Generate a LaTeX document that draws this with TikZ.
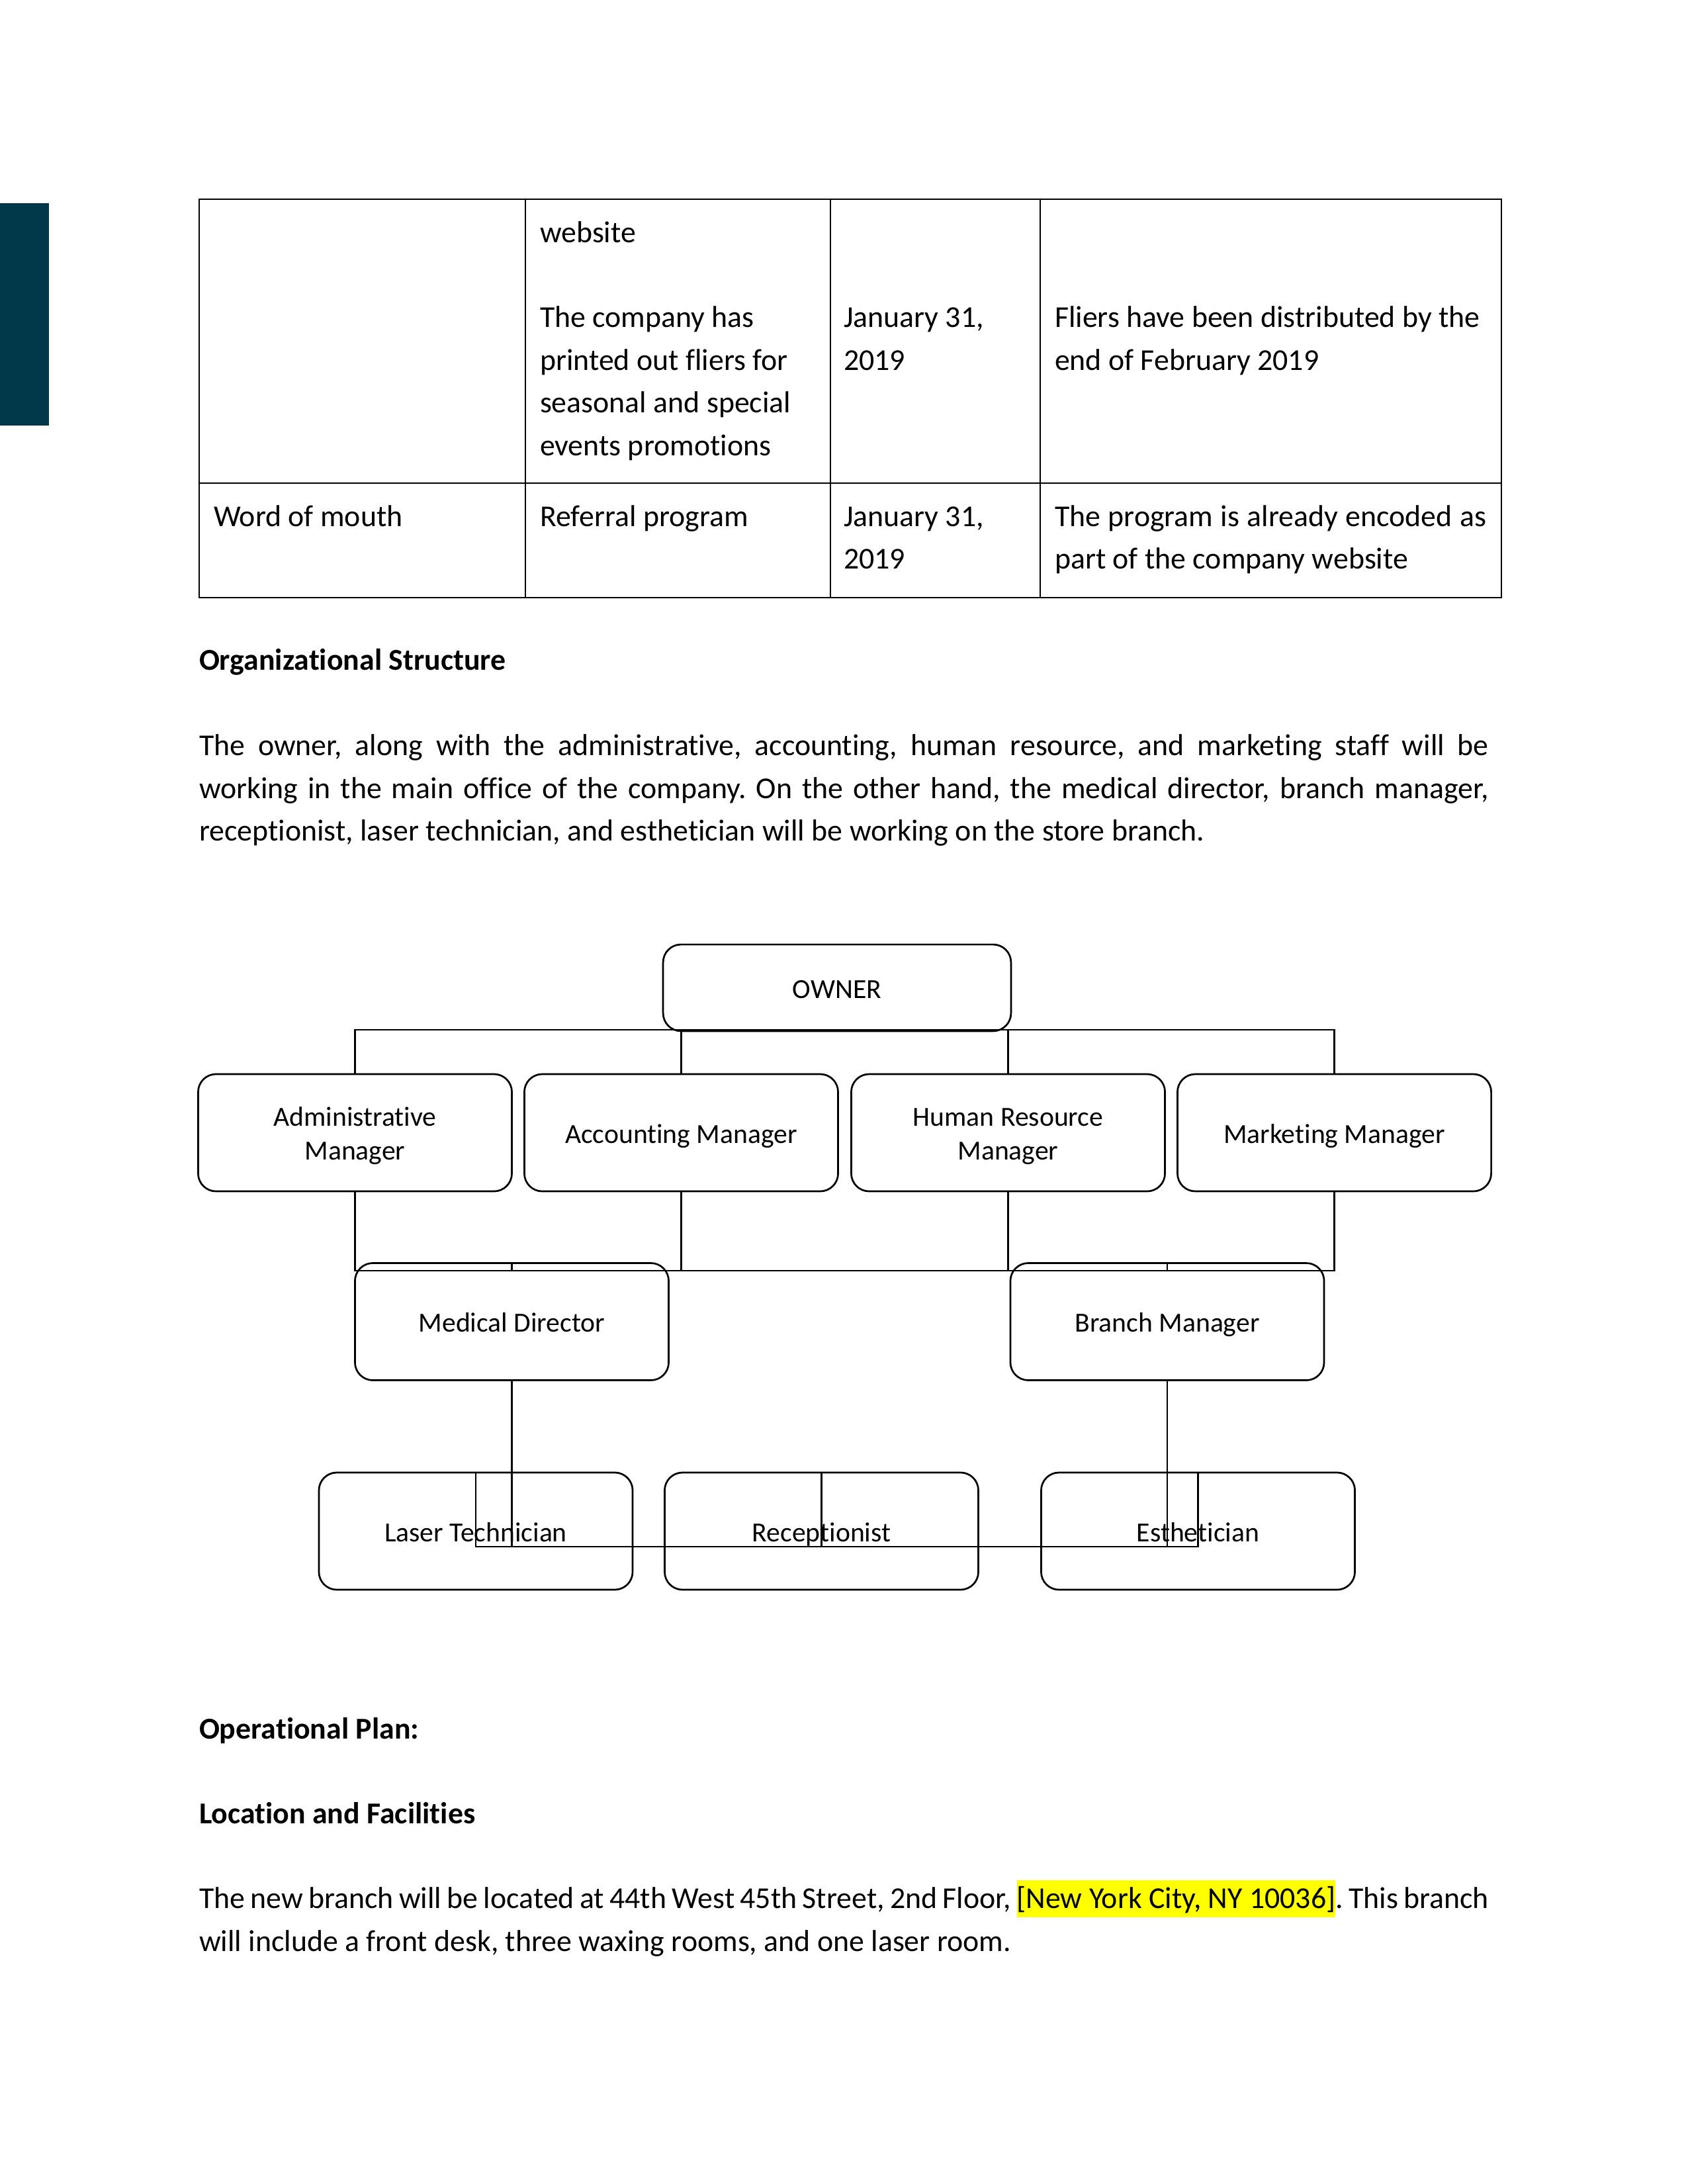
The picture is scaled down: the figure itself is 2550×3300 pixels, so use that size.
\documentclass[tikz,border=0pt]{standalone}
\usepackage{fontspec}
\setmainfont{Carlito}[Ligatures=NoCommon, Contextuals=NoAlternate]
\usetikzlibrary{calc}
\definecolor{sidebar}{RGB}{2,57,74}
\definecolor{hl}{RGB}{255,255,0}
\newcommand\bodyfont{\fontsize{11pt}{13.4pt}\selectfont}
\newcommand\orgfont{\fontsize{10pt}{12.2pt}\selectfont}
\newcommand\jline[1]{\makebox[467.76pt][s]{#1}}
\newcommand\celljline[1]{\makebox[156.5pt][s]{#1}}
\frenchspacing
\begin{document}
\begin{tikzpicture}[x=0.24pt, y=-0.24pt,
  every node/.style={inner sep=0pt, outer sep=0pt},
  txt/.style={anchor=base west, font=\bodyfont},
  hd/.style={anchor=base west, font=\bodyfont\bfseries},
  orgbox/.style={draw, line width=0.65pt, rounded corners=6.5pt, minimum width=113.8pt, minimum height=42.5pt},
  ownbox/.style={draw, line width=0.65pt, rounded corners=6.5pt, minimum width=126.2pt, minimum height=31.4pt},
  orgtxt/.style={anchor=base, font=\orgfont},
  link/.style={line width=0.55pt},
  rule/.style={line width=0.5pt}]
\useasboundingbox (0,0) rectangle (2550,3300);
% side bar
\fill[sidebar] (0,307) rectangle (74,643);
% table
\draw[rule] (301,301) rectangle (2269,903);
\draw[rule] (794,301) -- (794,903);
\draw[rule] (1255,301) -- (1255,903);
\draw[rule] (1572,301) -- (1572,903);
\draw[rule] (301,730) -- (2269,730);
\node[txt] (c12a) at (816,366) {website};
\node[txt] (c12b) at (816,494) {The company has};
\node[txt] (c12c) at (816,559) {printed out fliers for};
\node[txt] (c12d) at (816,623) {seasonal and special};
\node[txt] (c12e) at (816,688) {events promotions};
\node[txt] (c13a) at (1275,494) {January 31,};
\node[txt] (c13b) at (1275,559) {2019};
\node[txt] (c14a) at (1594,494) {Fliers have been distributed by the};
\node[txt] (c14b) at (1594,559) {end of February 2019};
\node[txt] (c21) at (323,795) {Word of mouth};
\node[txt] (c22) at (816,795) {Referral program};
\node[txt] (c23a) at (1275,795) {January 31,};
\node[txt] (c23b) at (1275,859) {2019};
\node[txt] (c24a) at (1594,795) {\celljline{The program is already encoded as}};
\node[txt] (c24b) at (1594,859) {part of the company website};
% heading and paragraph
\node[hd] (h1) at (301,1012) {Organizational Structure};
\node[txt] (p1) at (301,1141) {\jline{The owner, along with the administrative, accounting, human resource, and marketing staff will be}};
\node[txt] (p2) at (301,1206) {\jline{working in the main office of the company. On the other hand, the medical director, branch manager,}};
\node[txt] (p3) at (301,1270) {receptionist, laser technician, and esthetician will be working on the store branch.};
% org chart boxes
\node[ownbox] (own) at (1265,1492.5) {};
\node[orgbox] (adm) at (536.5,1711.5) {};
\node[orgbox] (acc) at (1029.5,1711.5) {};
\node[orgbox] (hr) at (1523.5,1711.5) {};
\node[orgbox] (mkt) at (2016.5,1711.5) {};
\node[orgbox] (md) at (773.5,1997) {};
\node[orgbox] (bm) at (1764,1997) {};
\node[orgbox] (las) at (719,2313.5) {};
\node[orgbox] (rec) at (1241.5,2313.5) {};
\node[orgbox] (est) at (1810.5,2313.5) {};
% org chart texts
\node[orgtxt] (t-own) at ([yshift=-3.72pt]own.center) {OWNER};
\node[orgtxt] (t-adm1) at ([yshift=2.52pt]adm.center) {Administrative};
\node[orgtxt] (t-adm2) at ([yshift=-9.72pt]adm.center) {Manager};
\node[orgtxt] (t-acc) at ([yshift=-3.72pt]acc.center) {Accounting Manager};
\node[orgtxt] (t-hr1) at ([yshift=2.52pt]hr.center) {Human Resource};
\node[orgtxt] (t-hr2) at ([yshift=-9.72pt]hr.center) {Manager};
\node[orgtxt] (t-mkt) at ([yshift=-3.72pt]mkt.center) {Marketing Manager};
\node[orgtxt] (t-md) at ([yshift=-3.72pt]md.center) {Medical Director};
\node[orgtxt] (t-bm) at ([yshift=-3.72pt]bm.center) {Branch Manager};
\node[orgtxt] (t-las) at ([yshift=-3.72pt]las.center) {Laser Technician};
\node[orgtxt] (t-rec) at ([yshift=-3.72pt]rec.center) {Receptionist};
\node[orgtxt] (t-est) at ([yshift=-3.72pt]est.center) {Esthetician};
% connectors
\coordinate (bus1) at (0,1556);
\coordinate (bus2) at (0,1920);
\coordinate (bus3) at (0,2337);
\draw[link] (adm.north) -- (adm.north |- bus1) -- (mkt.north |- bus1) -- (mkt.north);
\draw[link] (acc.north) -- (acc.north |- bus1);
\draw[link] (hr.north) -- (hr.north |- bus1);
\draw[link] (adm.south) -- (adm.south |- bus2) -- (mkt.south |- bus2) -- (mkt.south);
\draw[link] (acc.south) -- (acc.south |- bus2);
\draw[link] (hr.south) -- (hr.south |- bus2);
\draw[link] (md.north) -- (md.north |- bus2);
\draw[link] (bm.north) -- (bm.north |- bus2);
\draw[link] (las.north) -- (las.north |- bus3) -- (est.north |- bus3) -- (est.north);
\draw[link] (rec.north) -- (rec.north |- bus3);
\draw[link] (md.south) -- (md.south |- bus3);
\draw[link] (bm.south) -- (bm.south |- bus3);
% operational plan
\node[hd] (h2) at (301,2627) {Operational Plan:};
\node[hd] (h3) at (301,2755) {Location and Facilities};
\node[txt] (q1) at (301,2883) {\jline{The new branch will be located at 44th West 45th Street, 2nd Floor, {\setlength{\fboxsep}{0pt}\colorbox{hl}{\rule[-3.4pt]{0pt}{13.5pt}[New York City, NY 10036]}}. This branch}};
\node[txt] (q2) at (301,2948) {will include a front desk, three waxing rooms, and one laser room.};
\end{tikzpicture}
\end{document}
